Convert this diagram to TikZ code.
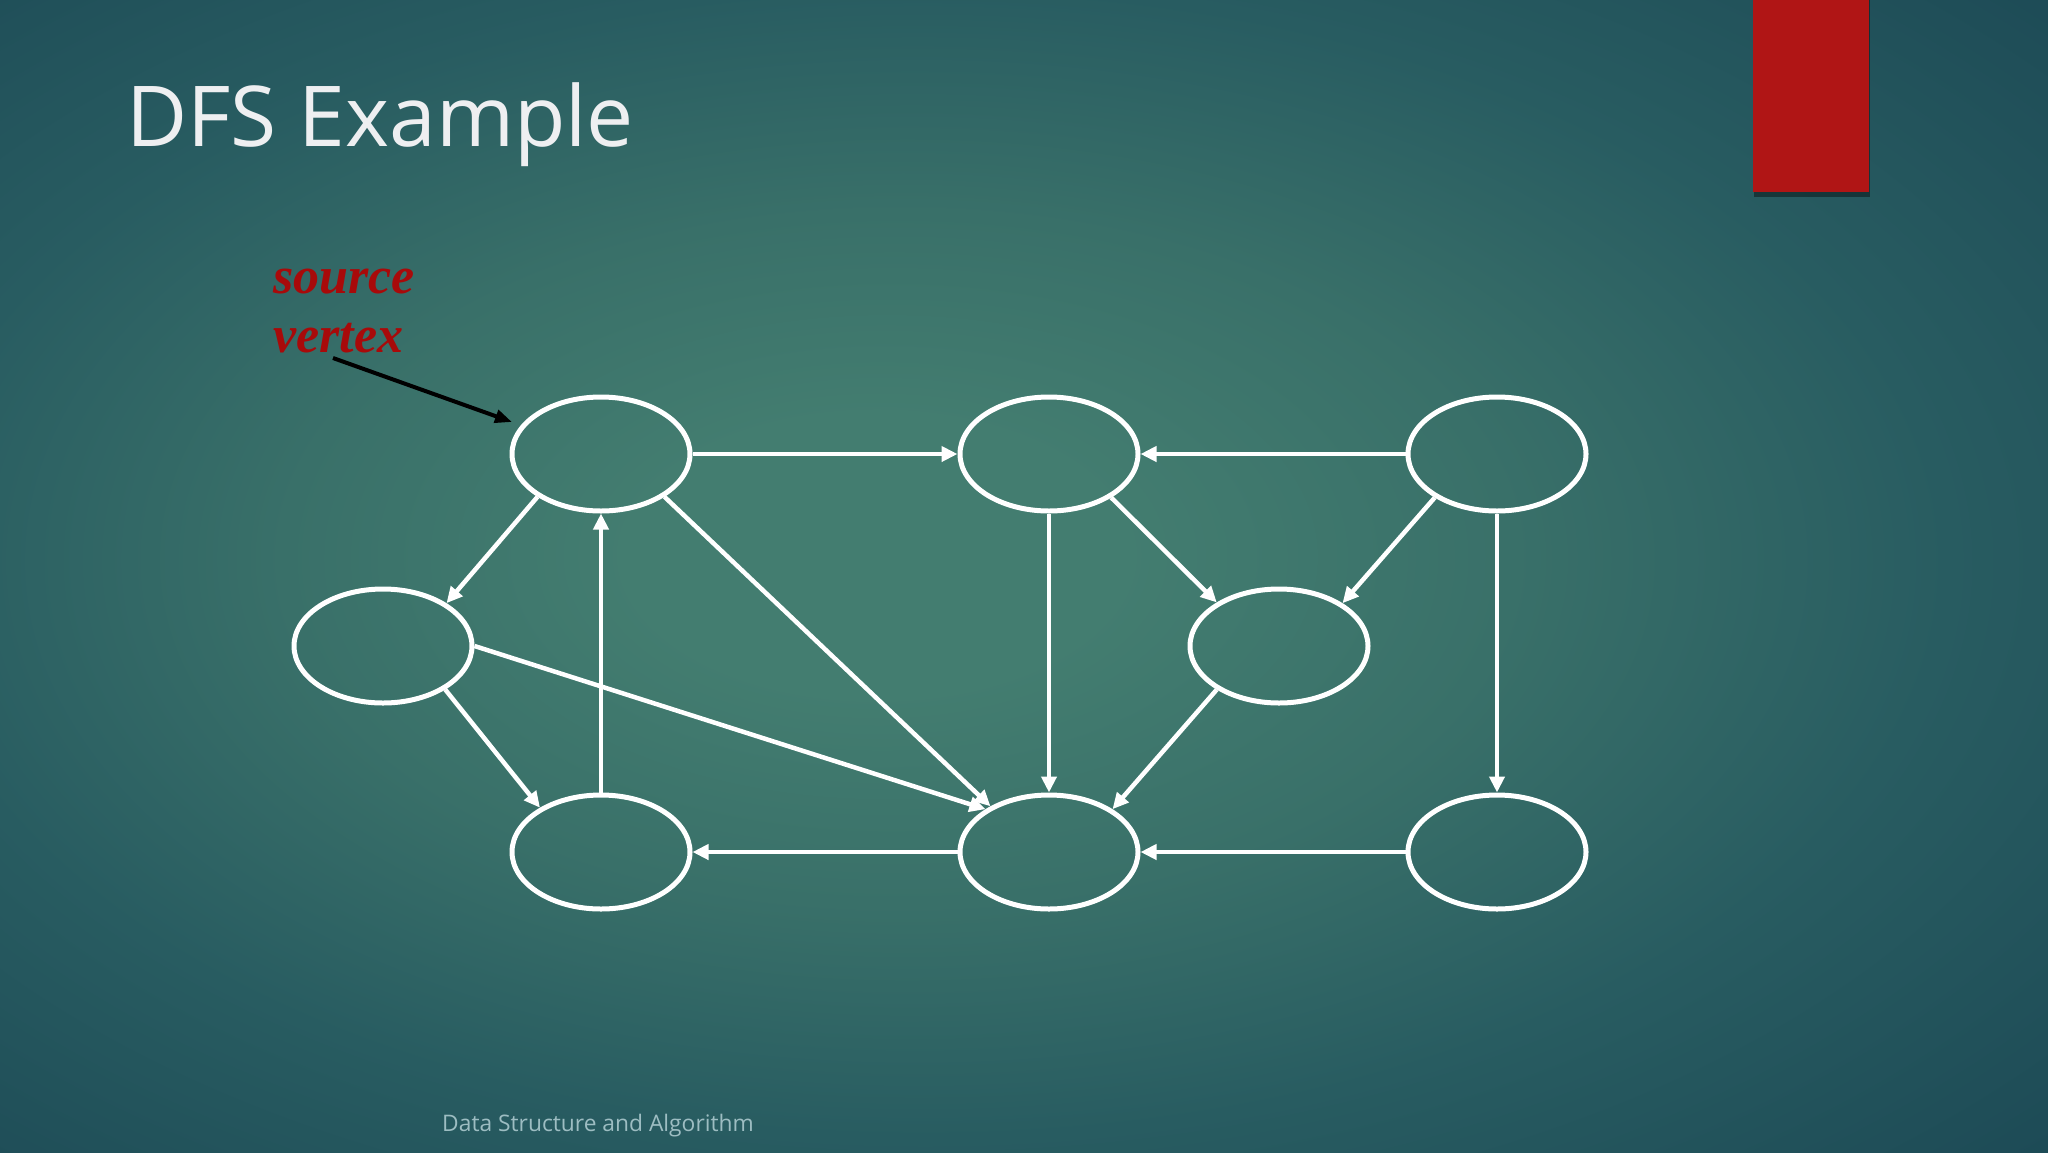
\documentclass[tikz,border=0pt]{standalone}
\usepackage{fontspec}
\setmainfont{Open Sans}
\newfontfamily\srcfont{Liberation Serif}
\usetikzlibrary{shapes.geometric,arrows.meta}
\definecolor{bgc}{HTML}{437D70}
\definecolor{bga}{HTML}{397069}
\definecolor{bgm}{HTML}{285C61}
\definecolor{bge}{HTML}{1C4955}
\definecolor{bgx}{HTML}{113443}
\definecolor{slidered}{HTML}{B01515}
\definecolor{srcred}{HTML}{A80A0A}
\definecolor{titlecol}{HTML}{EEEFF1}
\definecolor{footcol}{HTML}{9DBDC2}
\pgfdeclareradialshading{bgshade}{\pgfpoint{-4bp}{1bp}}{color(0bp)=(bgc); color(6bp)=(bgc); color(15bp)=(bga); color(25bp)=(bgm); color(38bp)=(bge); color(64bp)=(bgx)}
\tikzset{
  vtx/.style={ellipse, draw=white, line width=5pt, minimum width=178pt, minimum height=114pt, inner sep=0pt},
  edge/.style={draw=white, line width=4.5pt, -{Triangle[length=16pt,width=15pt]}},
  pointer/.style={draw=black, line width=4pt, -{Triangle[length=17pt,width=13pt]}},
  srctext/.style={anchor=base west, inner sep=0pt, text=srcred, font=\srcfont\bfseries\itshape\fontsize{52}{59}\selectfont},
}
\begin{document}
\begin{tikzpicture}[x=1pt,y=-1pt]
\useasboundingbox (0,0) rectangle (2048,1152);
\shade[shading=bgshade] (0,0) rectangle (2048,1152);
% red accent bar with shadow
\fill[black,opacity=0.4] (1754,0) rectangle (1870,197);
\fill[slidered] (1753,0) rectangle (1869,192);
% title
\node[anchor=base west, inner sep=0pt, text=titlecol, font=\fontsize{84}{100}\selectfont] (title) at (126,146) {DFS Example};
% source vertex label
\node[srctext] (src1) at (273,293) {source};
\node[srctext] (src2) at (273,352) {vertex};
% vertices
\node[vtx] (A) at (601,454) {};
\node[vtx] (B) at (1049,454) {};
\node[vtx] (C) at (1497,454) {};
\node[vtx] (D) at (383,646) {};
\node[vtx] (E) at (1279,646) {};
\node[vtx] (F) at (601,852) {};
\node[vtx] (G) at (1049,852) {};
\node[vtx] (H) at (1497,852) {};
% pointer
\coordinate (ps) at (333,358);
\coordinate (pe) at (512,422);
\draw[pointer] (ps) -- (pe);
% edges
\draw[edge] (A.east) -- (B.west);
\draw[edge] (C.west) -- (B.east);
\draw[edge] (A.214) -- (D.34);
\draw[edge] (A.-34) -- (G.142);
\draw[edge] (D.east) -- (G.146);
\draw[edge] (D.-35) -- (F.144);
\draw[edge] (F.north) -- (A.south);
\draw[edge] (B.south) -- (G.north);
\draw[edge] (B.-35) -- (E.145);
\draw[edge] (C.215) -- (E.34);
\draw[edge] (E.215) -- (G.34);
\draw[edge] (C.south) -- (H.north);
\draw[edge] (G.west) -- (F.east);
\draw[edge] (H.west) -- (G.east);
% footer
\node[anchor=base west, inner sep=0pt, text=footcol, font=\fontsize{22.8}{28}\selectfont] (foot) at (442,1131) {Data Structure and Algorithm};
\end{tikzpicture}
\end{document}
